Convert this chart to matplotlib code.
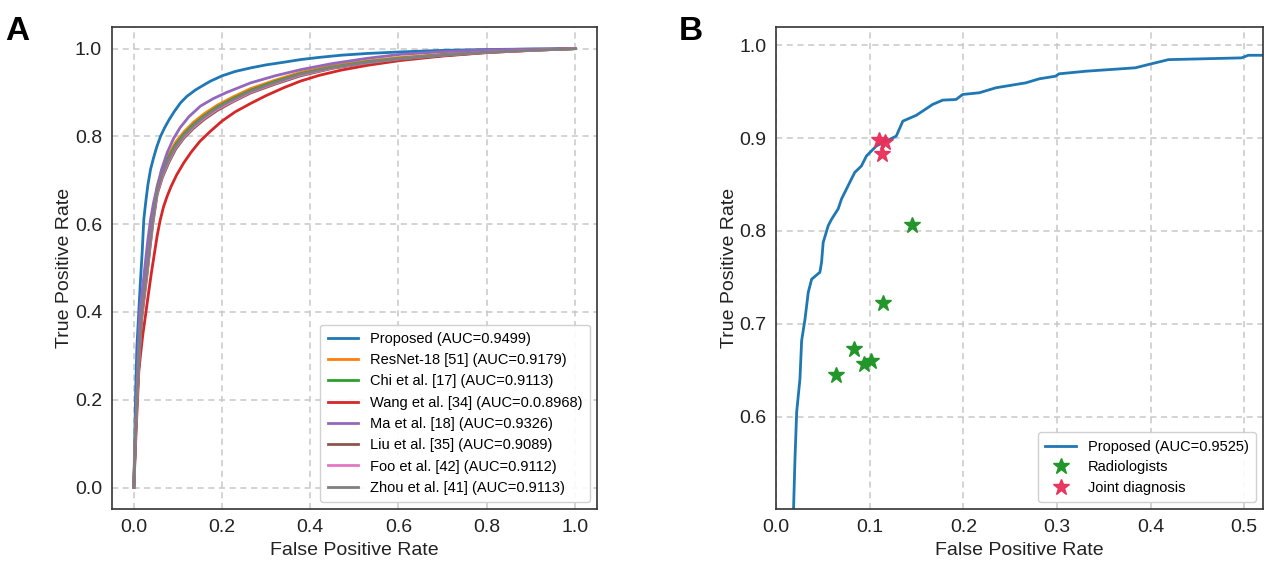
import matplotlib
matplotlib.use("Agg")
import matplotlib.pyplot as plt

plt.rcParams['font.family'] = ['Liberation Sans', 'DejaVu Sans']

# ---- panel A: ROC curves of all methods ----
labels_a = ['Proposed (AUC=0.9499)', 'ResNet-18 [51] (AUC=0.9179)', 'Chi et al. [17] (AUC=0.9113)',
            'Wang et al. [34] (AUC=0.0.8968)', 'Ma et al. [18] (AUC=0.9326)', 'Liu et al. [35] (AUC=0.9089)',
            'Foo et al. [42] (AUC=0.9112)', 'Zhou et al. [41] (AUC=0.9113)']
colors_a = ['#1f77b4', '#ff7f0e', '#2ca02c', '#d62728', '#9467bd', '#8c564b', '#e377c2', '#7f7f7f']

fpr_proposed = [0, .002, .004, .007, .0113, .015, .019, .0227, .027, .032, .038, .045, .052, .0605,
                .07, .08, .092, .106, .12, .14, .16, .174, .2, .23, .265, .3, .34, .378, .42, .47,
                .53, .605, .7, .8, .9, 1.0]
tpr_proposed = [0, .1, .21, .32, .40, .47, .536, .611, .65, .69, .725, .752, .776, .80,
                .82, .838, .857, .8766, .891, .906, .918, .926, .938, .948, .9561, .963, .969, .975, .980, .985,
                .989, .9925, .996, .998, .999, 1.0]

fpr_ma = [0, .003, .006, .01, .0136, .018, .0227, .027, .032, .038, .045, .053, .063, .0757, .09,
          .105, .125, .151, .18, .21, .265, .32, .378, .45, .53, .605, .7, .8, .9, 1.0]
tpr_ma = [0, .1, .2, .31, .40, .44, .48, .52, .565, .611, .65, .685, .725, .763, .795,
          .82, .845, .869, .886, .9, .922, .938, .952, .966, .978, .987, .993, .997, .999, 1.0]

fpr_wang = [0, .003, .0054, .0085, .0113, .015, .02, .0265, .033, .04, .047, .053, .06, .0675, .0757,
            .085, .097, .1134, .13, .15, .174, .2, .23, .2646, .3, .34, .378, .42, .47, .53, .605,
            .7, .8, .9, 1.0]
tpr_wang = [0, .07, .134, .2, .263, .3, .345, .392, .44, .49, .535, .574, .61, .64, .664,
            .687, .712, .74, .764, .789, .812, .835, .856, .875, .893, .911, .926, .939, .951, .962, .973,
            .983, .991, .996, 1.0]

# the middle group shares the same fpr sampling
fpr_mid = [0, .003, .007, .012, .0175, .024, .03, .036, .043, .053, .065, .08, .095, .1134, .135,
           .16, .189, .225, .265, .32, .378, .45, .53, .605, .7, .8, .9, 1.0]
tpr_resnet = [0, .1, .2, .31, .40, .455, .505, .56, .62, .687, .725, .76, .787, .81, .832,
              .852, .871, .89, .909, .928, .946, .961, .972, .98, .987, .993, .997, 1.0]
tpr_chi = [0, .1, .2, .305, .395, .45, .50, .555, .614, .68, .719, .754, .781, .805, .827,
           .847, .867, .886, .905, .925, .943, .958, .970, .978, .986, .992, .997, 1.0]
tpr_liu = [0, .09, .19, .29, .38, .435, .485, .54, .6, .668, .707, .742, .771, .796, .818,
           .839, .859, .879, .899, .919, .938, .955, .967, .976, .984, .991, .996, 1.0]
tpr_foo = [0, .1, .195, .295, .385, .44, .49, .545, .605, .672, .711, .746, .775, .799, .821,
           .842, .862, .881, .901, .921, .94, .956, .968, .977, .985, .992, .996, 1.0]
tpr_zhou = [0, .1, .2, .3, .39, .445, .495, .55, .61, .676, .715, .75, .778, .802, .824,
            .845, .865, .884, .903, .923, .942, .957, .969, .977, .985, .992, .996, 1.0]

curves_a = [(fpr_proposed, tpr_proposed), (fpr_mid, tpr_resnet), (fpr_mid, tpr_chi),
            (fpr_wang, tpr_wang), (fpr_ma, tpr_ma), (fpr_mid, tpr_liu),
            (fpr_mid, tpr_foo), (fpr_mid, tpr_zhou)]

# ---- panel B: proposed vs radiologists ----
fpr_b = [0.0178, 0.0202, 0.022, 0.0255, 0.0273, 0.0309, 0.0344, 0.038, 0.0468, 0.0486, 0.0503,
         0.0556, 0.0592, 0.0663, 0.0699, 0.0787, 0.084, 0.0911, 0.0965, 0.1071, 0.1284, 0.1354,
         0.1497, 0.1673, 0.178, 0.1922, 0.1993, 0.217, 0.2348, 0.2667, 0.2809, 0.2986, 0.3021,
         0.3305, 0.3837, 0.3979, 0.4191, 0.4971, 0.5043, 0.52]
tpr_b = [0.47, 0.5545, 0.605, 0.6405, 0.6817, 0.705, 0.734, 0.748, 0.7555, 0.7663, 0.7875,
         0.8054, 0.8125, 0.8237, 0.8344, 0.8523, 0.863, 0.8699, 0.8807, 0.8915, 0.9022, 0.9183,
         0.9245, 0.9363, 0.9409, 0.9416, 0.947, 0.9488, 0.9542, 0.9595, 0.9638, 0.9667, 0.9692,
         0.972, 0.9757, 0.9793, 0.9845, 0.9864, 0.9892, 0.9892]

radiologist_fpr = [0.145, 0.1142, 0.0837, 0.094, 0.1018, 0.0642]
radiologist_tpr = [0.806, 0.7223, 0.6728, 0.6567, 0.6596, 0.6448]
joint_fpr = [0.1096, 0.1167, 0.1131]
joint_tpr = [0.8975, 0.8961, 0.883]

fig = plt.figure(figsize=(12.8, 5.64), dpi=100)
ax1 = fig.add_axes([0.0873, 0.0967, 0.3791, 0.856])
ax2 = fig.add_axes([0.6063, 0.0967, 0.3804, 0.856])

for ax in (ax1, ax2):
    ax.set_axisbelow(True)
    ax.grid(True, color='#c8c8c8', linestyle=(0, (4, 3)), linewidth=1.1)
    for s in ax.spines.values():
        s.set_color('#333333')
        s.set_linewidth(1.2)
    ax.tick_params(length=0, pad=7, labelsize=14, colors='#222222')
    ax.set_xlabel('False Positive Rate', fontsize=14, color='#222222', labelpad=4)
    ax.set_ylabel('True Positive Rate', fontsize=14, color='#222222', labelpad=1)

for (f, t), lab, c in zip(curves_a, labels_a, colors_a):
    ax1.plot(f, t, color=c, lw=2, label=lab)
ax1.set_xlim(-0.05, 1.05)
ax1.set_ylim(-0.05, 1.05)
ax1.set_xticks([0, 0.2, 0.4, 0.6, 0.8, 1.0])
ax1.set_yticks([0, 0.2, 0.4, 0.6, 0.8, 1.0])
ax1.legend(loc='lower right', fontsize=10.5, labelspacing=0.5, handlelength=2.1,
           framealpha=0.9, edgecolor='#cccccc', borderpad=0.5)

ax2.plot(fpr_b, tpr_b, color='#1f77b4', lw=2, label='Proposed (AUC=0.9525)')
ax2.plot(radiologist_fpr, radiologist_tpr, ls='none', marker='*', ms=12, color='#22962a',
         label='Radiologists')
ax2.plot(joint_fpr, joint_tpr, ls='none', marker='*', ms=12, color='#e8305a', alpha=0.95,
         label='Joint diagnosis')
ax2.set_xlim(0, 0.52)
ax2.set_ylim(0.5, 1.02)
ax2.set_xticks([0, 0.1, 0.2, 0.3, 0.4, 0.5])
ax2.set_yticks([0.6, 0.7, 0.8, 0.9, 1.0])
ax2.legend(loc='lower right', fontsize=10.5, labelspacing=0.45, handlelength=2.1,
           framealpha=0.9, edgecolor='#cccccc', borderpad=0.5)

fig.text(0.004, 0.945, 'A', fontsize=24, fontweight='bold', va='center', ha='left')
fig.text(0.530, 0.945, 'B', fontsize=24, fontweight='bold', va='center', ha='left')

fig.savefig('out.png', dpi=100)
